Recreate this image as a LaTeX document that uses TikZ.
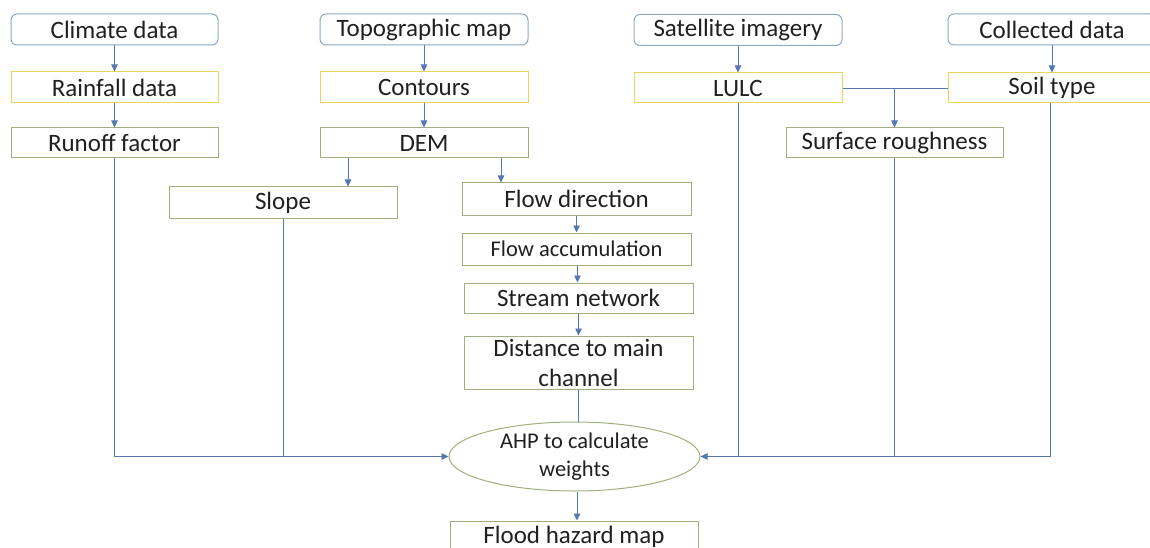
\documentclass[tikz,border=0pt]{standalone}
\usepackage{fontspec}
\setmainfont{Carlito}
\usetikzlibrary{arrows.meta,shapes.geometric,calc}
\definecolor{conn}{HTML}{5577B2}
\definecolor{srcb}{HTML}{8FA8C4}
\definecolor{yelb}{HTML}{EDD55C}
\definecolor{grnb}{HTML}{9FB07E}
\definecolor{txt}{HTML}{202020}
\begin{document}
\begin{tikzpicture}[x=1pt,y=-1pt,
  base/.style={draw, line width=1pt, inner sep=0pt, text=txt, align=center,
    font=\fontsize{25}{30}\selectfont},
  srcbox/.style={base, draw=srcb, rounded corners=6pt, minimum width=207pt, minimum height=31pt},
  yelbox/.style={base, draw=yelb, minimum width=207pt, minimum height=31pt},
  grnbox/.style={base, draw=grnb, minimum height=30pt},
  conline/.style={draw=conn, line width=0.8pt},
  arr/.style={conline, -{Triangle[length=7pt,width=6.5pt]}}]
\useasboundingbox (0,0) rectangle (1150,548);
\clip (0,0) rectangle (1150,548);
% sources
\node[srcbox] (clim) at (114.5,29.5) {Climate data};
\node[srcbox, minimum width=208pt] (topo) at (424,29.5) {Topographic map};
\node[srcbox, minimum width=208pt] (sat) at (738,30) {Satellite imagery};
\node[srcbox, minimum width=208pt] (coll) at (1052,29.5) {Collected data};
% yellow
\node[yelbox] (rain) at (114.5,87.5) {Rainfall data};
\node[yelbox, minimum width=208pt] (cont) at (424,87.5) {Contours};
\node[yelbox, minimum width=208pt, minimum height=30pt] (lulc) at (738,88) {LULC};
\node[yelbox, minimum width=208pt, minimum height=30pt] (soil) at (1052,88) {Soil type};
% green
\node[grnbox, minimum width=207pt] (runoff) at (114.5,143) {Runoff factor};
\node[grnbox, minimum width=208pt] (dem) at (424,143) {DEM};
\node[grnbox, minimum width=217pt] (rough) at (894.5,143) {Surface roughness};
\node[grnbox, minimum width=228pt, minimum height=31pt] (slope) at (283,202.5) {Slope};
\node[grnbox, minimum width=229pt, minimum height=32pt] (flowdir) at (576.5,199) {Flow direction};
\node[grnbox, minimum width=229pt, minimum height=32pt, font=\fontsize{22.5}{27}\selectfont] (flowacc) at (576.5,249) {Flow accumulation};
\node[grnbox, minimum width=229pt] (stream) at (578.5,298) {Stream network};
\node[grnbox, minimum width=229pt, minimum height=53pt] (dist) at (578.5,362.5) {Distance to main\\channel};
\node[base, draw=grnb, ellipse, minimum width=251pt, minimum height=69pt,
  font=\fontsize{22.5}{28}\selectfont] (ahp) at (574.5,456.5) {AHP to calculate\\weights};
\node[grnbox, minimum width=248pt, minimum height=32pt] (flood) at (574,537) {Flood hazard map};
% connectors
\draw[arr] (clim) -- (rain);
\draw[arr] (rain) -- (runoff);
\draw[arr] (topo) -- (cont);
\draw[arr] (cont) -- (dem);
\draw[arr] (sat) -- (lulc);
\draw[arr] (coll) -- (soil);
\draw[arr] ([xshift=-76pt]dem.south) -- ([xshift=-76pt]dem.south |- slope.north);
\draw[arr] ([xshift=77pt]dem.south) -- ([xshift=77pt]dem.south |- flowdir.north);
\draw[arr] (flowdir) -- (flowacc);
\draw[arr] ([xshift=1pt]flowacc.south) -- ([xshift=1pt]flowacc.south |- stream.north);
\draw[arr] (stream) -- (dist);
\draw[conline] (dist.south) -- (dist.south |- ahp.north);
\draw[arr] ([xshift=2.5pt]ahp.south) -- ([xshift=2.5pt]ahp.south |- flood.north);
\draw[conline] (lulc.east) -- (soil.west);
\draw[arr] (lulc.east -| rough.north) -- (rough.north);
\draw[arr] (runoff.south) |- (ahp.west);
\draw[conline] (slope.south) -- (slope.south |- ahp.west);
\draw[arr] ([xshift=-2pt]soil.south) |- (ahp.east);
\draw[conline] (lulc.south) -- (lulc.south |- ahp.east);
\draw[conline] (rough.south) -- (rough.south |- ahp.east);
\end{tikzpicture}
\end{document}
